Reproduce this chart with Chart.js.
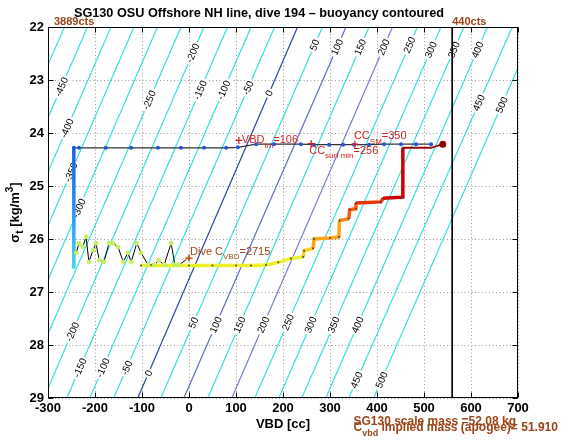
<!DOCTYPE html>
<html>
<head>
<meta charset="utf-8">
<title>SG130 dive 194 buoyancy</title>
<script src="https://cdn.jsdelivr.net/npm/chart.js@4.4.1/dist/chart.umd.min.js"></script>
<style>
  html, body { margin: 0; padding: 0; background: #fff; }
  #box { width: 569px; height: 442px; }
</style>
</head>
<body>
<div id="box"><canvas id="buoy" width="569" height="442"></canvas></div>
<script>
const FONT = "'Liberation Sans', Arial, Helvetica, sans-serif";
const BROWN = '#9a4519';
const RED = '#d42222';

const chartTitle = 'SG130 OSU Offshore NH line, dive 194 \u2013 buoyancy contoured';

// buoyancy contours [g]; VBD [cc] where each one meets the top / bottom of the sigma axis
const sigmaTop = 22;
const sigmaBottom = 29;
const contourLevels = [-500, -450, -400, -350, -300, -250, -200, -150, -100, -50, 0,
                       50, 100, 150, 200, 250, 300, 350, 400, 450, 500];
const contourVbdTop = [-265, -216, -166, -117, -67, -17, 32, 82, 132, 182, 231,
                       284, 334, 383, 433, 486, 536, 585, 635, 688, 738];
const contourVbdBottom = [-609, -559, -509, -459, -409, -359, -309, -260, -211, -160, -109,
                          -60, -11, 40, 91, 140, 191, 240, 291, 340, 393];

// contour labels (level, sigma_t where the number sits)
const labelLevels = [-450, -400, -350, -300, -250, -200, -150, -100, -50, 0, 50, 100, 150, 200, 250, 300, 350, 400, 450, 500,
                     -200, -150, -100, -50, 0, 50, 100, 150, 200, 250, 300, 350, 400, 450, 500];
const labelSigmas = [23.13, 23.91, 24.74, 25.42, 23.38, 22.49, 23.19, 23.19, 23.15, 23.25, 22.34, 22.38, 22.38, 22.38, 22.34, 22.43, 22.43, 22.43, 23.43, 23.47,
                     27.75, 28.43, 28.43, 28.43, 28.53, 27.58, 27.62, 27.62, 27.62, 27.57, 27.62, 27.62, 27.62, 28.66, 28.66];

// surface, bleeding VBD
const surfVbd = [-245, -234, -177, -123, -66, -17, 32, 79, 104, 143, 181, 238, 266, 298, 328, 351, 383, 415, 451, 483, 515];
const surfSigma = [24.28, 24.28, 24.28, 24.28, 24.28, 24.28, 24.28, 24.28, 24.27, 24.21, 24.21, 24.21, 24.22, 24.22, 24.22, 24.22, 24.22, 24.21, 24.21, 24.21, 24.21];

// descent at minimum VBD
const descentVbd = [-245, -245];
const descentSigma = [24.29, 26.56];

// apogee wiggles
const apoVbd = [-240, -234, -226, -219, -213, -204, -198, -191, -181, -170, -162, -151, -140, -130, -123, -111, -102, -87, -74, -64, -53, -38, -30, -21, -2];
const apoSigma = [26.26, 26.08, 26.15, 25.96, 26.43, 26.21, 26.08, 26.40, 26.43, 26.08, 26.08, 26.15, 26.43, 26.26, 26.43, 26.08, 26.26, 26.49, 26.49, 26.40, 26.49, 26.08, 26.49, 26.49, 26.36];

// climb, pumping, back at the surface
const climbVbd = [-102, -50, 0, 50, 100, 132, 164, 190, 217, 243, 245, 264, 266, 300, 319, 320, 340, 342, 355, 355, 408, 413, 455, 455, 480, 515, 540];
const climbSigma = [26.50, 26.50, 26.50, 26.50, 26.50, 26.50, 26.49, 26.44, 26.37, 26.34, 26.22, 26.18, 26.00, 25.98, 25.96, 25.65, 25.62, 25.45, 25.43, 25.32, 25.30, 25.23, 25.21, 24.28, 24.28, 24.28, 24.21];

// 440 cts VBD limit
const limitVbd = 560;

// marked values
const markVbd = [106, 353, 260, 0];
const markSigma = [24.14, 24.21, 24.20, 26.36];

function contourColor(lev) {
  if (lev === 0) return '#2846a8';
  if (lev === 100) return '#5d6ccc';
  if (lev === 200) return '#7480d0';
  return '#33e0e0';
}

function climbColor(sig) {
  if (sig > 26.3) return '#eef02a';
  if (sig > 26.1) return '#ffcf1a';
  if (sig > 25.8) return '#ffa512';
  if (sig > 25.55) return '#ff8010';
  if (sig > 25.35) return '#ff5a0a';
  if (sig > 25.26) return '#ee3008';
  if (sig > 24.3) return '#d00000';
  return '#a00000';
}

const pts = (xs, ys) => xs.map((v, i) => ({x: v, y: ys[i]}));

const datasets = contourLevels.map((lev, i) => ({
  data: [{x: contourVbdTop[i], y: sigmaTop}, {x: contourVbdBottom[i], y: sigmaBottom}],
  borderColor: contourColor(lev),
  borderWidth: 1.2,
  pointRadius: 0,
  clip: 0,
  order: 10
}));

const last = climbVbd.length - 1;

datasets.push(
  {
    data: [{x: limitVbd, y: sigmaTop}, {x: limitVbd, y: sigmaBottom}],
    borderColor: '#000', borderWidth: 1, pointRadius: 0, order: 9
  },
  {
    data: pts(descentVbd, descentSigma),
    borderWidth: 3.5, pointRadius: 0, order: 5,
    borderColor: (c) => {
      const {chart} = c;
      if (!chart.chartArea) return '#1a6cf0';
      const y = chart.scales.y;
      const g = chart.ctx.createLinearGradient(0, y.getPixelForValue(descentSigma[0]), 0, y.getPixelForValue(descentSigma[1]));
      g.addColorStop(0, '#1560e8');
      g.addColorStop(0.6, '#2a9cf4');
      g.addColorStop(1, '#40d6ee');
      return g;
    }
  },
  {
    data: pts(surfVbd, surfSigma),
    borderColor: '#333', borderWidth: 1.3,
    pointRadius: 2, pointBackgroundColor: '#2255dd', pointBorderWidth: 0, order: 4
  },
  {
    data: pts(climbVbd, climbSigma),
    borderWidth: 3.5, borderColor: '#eef02a',
    segment: {
      borderColor: c => climbColor((c.p0.parsed.y + c.p1.parsed.y) / 2),
      borderWidth: c => ((c.p0.parsed.y + c.p1.parsed.y) / 2 < 24.3 ? 2 : 3.5)
    },
    pointRadius: 1, pointBackgroundColor: '#444', pointBorderWidth: 0, order: 3
  },
  {
    data: pts(apoVbd, apoSigma),
    borderColor: '#000', borderWidth: 1,
    pointRadius: 2.4, pointBackgroundColor: '#c6ef62', pointBorderWidth: 0, order: 2
  },
  {
    data: [{x: climbVbd[last], y: climbSigma[last]}],
    showLine: false, pointRadius: 3.5, pointBackgroundColor: '#8b0000', pointBorderWidth: 0, order: 1
  },
  {
    data: pts(markVbd, markSigma),
    showLine: false, pointStyle: 'cross', pointRadius: 3.5,
    borderColor: RED, pointBorderColor: RED, pointBorderWidth: 1.3, order: 0
  }
);

function rich(ctx, x, y, parts, size, weight, color, measureOnly) {
  let cx = x;
  ctx.fillStyle = color;
  for (const [t, k] of parts) {
    const s = k ? Math.round(size * 0.75) : size;
    ctx.font = `${weight} ${s}px ${FONT}`;
    const dy = k === 'sub' ? size * 0.4 : k === 'sup' ? -size * 0.4 : 0;
    if (!measureOnly) ctx.fillText(t, cx, y + dy);
    cx += ctx.measureText(t).width;
  }
  return cx - x;
}

function drawContourLabels(chart) {
  const {ctx, scales: {x, y}} = chart;
  ctx.save();
  ctx.font = `10px ${FONT}`;
  ctx.textAlign = 'center';
  ctx.textBaseline = 'middle';
  labelLevels.forEach((lev, k) => {
    const i = contourLevels.indexOf(lev);
    const s = labelSigmas[k];
    const f = (s - sigmaTop) / (sigmaBottom - sigmaTop);
    const v = contourVbdTop[i] + (contourVbdBottom[i] - contourVbdTop[i]) * f;
    const px = x.getPixelForValue(v), py = y.getPixelForValue(s);
    const ang = Math.atan2(y.getPixelForValue(sigmaTop) - y.getPixelForValue(sigmaBottom),
                           x.getPixelForValue(contourVbdTop[i]) - x.getPixelForValue(contourVbdBottom[i]));
    const txt = String(lev);
    const w = ctx.measureText(txt).width;
    ctx.save();
    ctx.translate(px, py);
    ctx.rotate(ang);
    ctx.fillStyle = '#fff';
    ctx.fillRect(-w / 2 - 2, -5, w + 4, 10);
    ctx.fillStyle = '#000';
    ctx.fillText(txt, 0, 0.5);
    ctx.restore();
  });
  ctx.restore();
}

function drawNotes(chart) {
  const {ctx, scales: {x, y}} = chart;
  const mx = markVbd.map(v => x.getPixelForValue(v));
  const my = markSigma.map(v => y.getPixelForValue(v));
  ctx.save();
  ctx.textAlign = 'left';
  ctx.textBaseline = 'alphabetic';
  rich(ctx, mx[0] + 3, my[0] + 3, [['VBD'], ['tm', 'sub'], ['=106']], 11, 'normal', RED);
  rich(ctx, mx[1] - 1, my[1] - 5, [['CC'], ['SM', 'sub'], ['=350']], 11, 'normal', RED);
  rich(ctx, mx[2] - 2, my[2] + 10, [['CC'], ['surf min', 'sub'], ['=256']], 11, 'normal', RED);
  rich(ctx, mx[3] + 1, my[3] - 3, [['Dive C'], ['VBD', 'sub'], ['=2715']], 11, 'normal', BROWN);
  ctx.restore();
}

function drawFrame(chart) {
  const {ctx, chartArea: a, scales: {x, y}} = chart;
  ctx.save();
  ctx.strokeStyle = '#000';
  ctx.lineWidth = 1;
  const L = Math.round(a.left) + 0.5, R = Math.round(a.right) - 0.5;
  const T = Math.round(a.top) + 0.5, B = Math.round(a.bottom) - 0.5;
  ctx.strokeRect(L, T, R - L, B - T);
  ctx.beginPath();
  x.ticks.forEach(t => {
    const p = Math.round(x.getPixelForValue(t.value)) + 0.5;
    ctx.moveTo(p, B); ctx.lineTo(p, B - 5);
    ctx.moveTo(p, T); ctx.lineTo(p, T + 5);
  });
  y.ticks.forEach(t => {
    const p = Math.round(y.getPixelForValue(t.value)) + 0.5;
    ctx.moveTo(L, p); ctx.lineTo(L + 5, p);
    ctx.moveTo(R, p); ctx.lineTo(R - 5, p);
  });
  ctx.stroke();

  // y axis title
  const yParts = [['\u03c3'], ['t', 'sub'], [' [kg/m'], ['3', 'sup'], [']']];
  ctx.save();
  ctx.translate(15, (a.top + a.bottom) / 2);
  ctx.rotate(-Math.PI / 2);
  ctx.textBaseline = 'middle';
  const w = rich(ctx, 0, 0, yParts, 13, 'bold', '#000', true);
  rich(ctx, -w / 2, 0, yParts, 13, 'bold', '#000');
  ctx.restore();

  // counts at the VBD ends
  ctx.textBaseline = 'alphabetic';
  ctx.font = `bold 11px ${FONT}`;
  ctx.fillStyle = BROWN;
  ctx.fillText('3889cts', a.left + 6, 25);
  ctx.fillText('440cts', x.getPixelForValue(limitVbd), 25);

  // mass notes under the axis
  const mx = x.getPixelForValue(350);
  ctx.font = `bold 12px ${FONT}`;
  ctx.fillText('SG130 scale mass =52.08 kg', mx, 425);
  rich(ctx, mx, 431, [['C'], ['vbd', 'sub'], [' implied mass (apogee)= 51.910']], 12, 'bold', BROWN);
  ctx.restore();
}

const overlay = {
  id: 'overlay',
  afterDatasetDraw(chart, args) {
    if (args.index === 0) drawContourLabels(chart);
  },
  afterDatasetsDraw(chart) { drawNotes(chart); },
  afterDraw(chart) { drawFrame(chart); }
};

Chart.defaults.font.family = FONT;

const axisTicks = { color: '#000', font: { size: 13, weight: 'bold' }, autoSkip: false, maxRotation: 0 };

new Chart(document.getElementById('buoy'), {
  type: 'line',
  data: { datasets },
  options: {
    responsive: false,
    animation: false,
    layout: { autoPadding: false, padding: { left: 0, right: 51, top: 0, bottom: 0 } },
    plugins: {
      legend: { display: false },
      tooltip: { enabled: false },
      title: {
        display: true,
        text: chartTitle,
        color: '#000',
        font: { size: 12.7, weight: 'bold', lineHeight: '15px' },
        padding: { top: 6, bottom: 6 }
      }
    },
    scales: {
      x: {
        type: 'linear', min: -300, max: 700,
        ticks: { ...axisTicks, stepSize: 100, padding: 3 },
        grid: { color: '#999', lineWidth: 1, drawTicks: false },
        border: { display: false, dash: [1, 2.5] },
        title: { display: true, text: 'VBD [cc]', color: '#000', font: { size: 13, weight: 'bold' }, padding: { top: 0, bottom: 10 } },
        afterFit: s => { s.height = 44; }
      },
      y: {
        type: 'linear', min: 22, max: 29, reverse: true,
        ticks: { ...axisTicks, stepSize: 1, padding: 4 },
        grid: { color: '#999', lineWidth: 1, drawTicks: false },
        border: { display: false, dash: [1, 2.5] },
        afterFit: s => { s.width = 48; }
      }
    }
  },
  plugins: [overlay]
});
</script>
</body>
</html>
